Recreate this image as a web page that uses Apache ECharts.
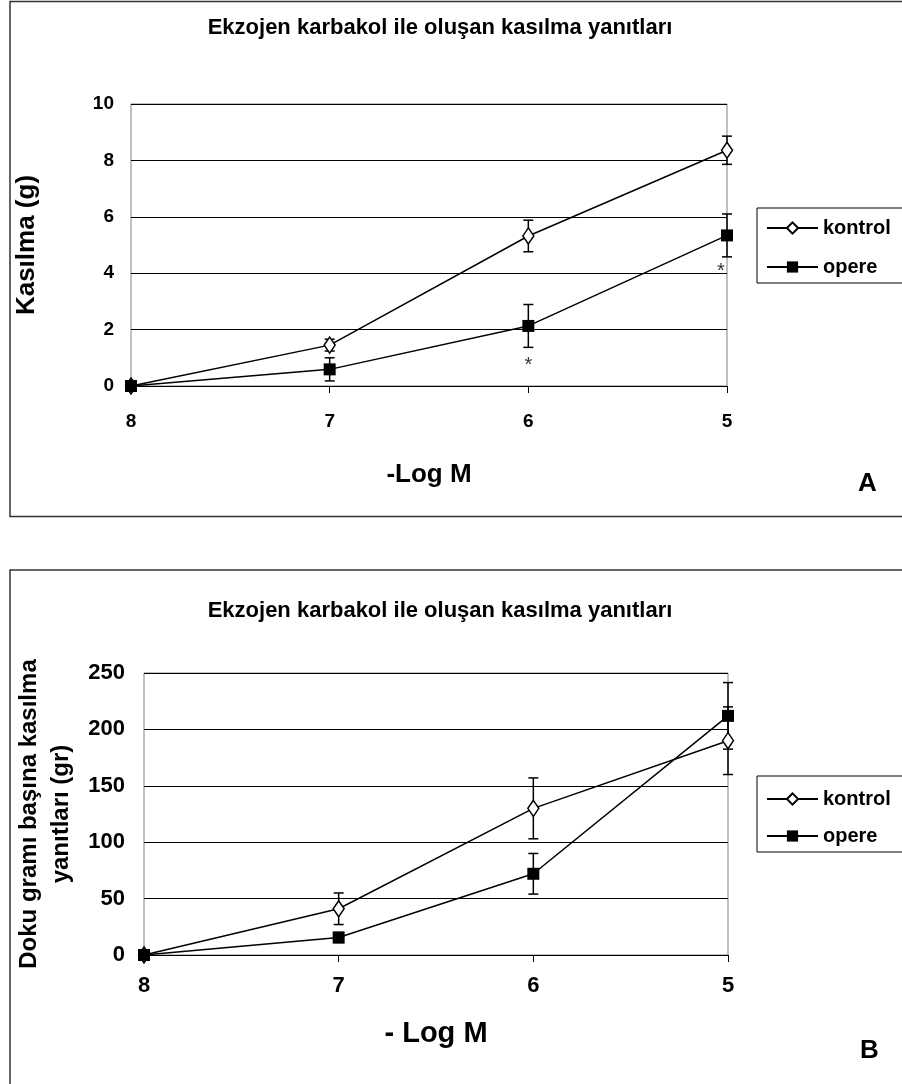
<!DOCTYPE html>
<html>
<head>
<meta charset="utf-8">
<script src="https://cdn.jsdelivr.net/npm/echarts@6/dist/echarts.min.js"></script>
<style>
  html, body { margin: 0; padding: 0; background: #fff; }
  #main { width: 902px; height: 1084px; }
</style>
</head>
<body>
<div id="main"></div>
<script>
var doses = ['8', '7', '6', '5'];

// panel A: Kasilma (g)
var kontrolA = [0, 1.45, 5.32, 8.36];
var kontrolAErr = [0, 0.21, 0.56, 0.5];
var opereA = [0, 0.59, 2.13, 5.34];
var opereAErr = [0, 0.41, 0.76, 0.76];
var starsA = [[2, 0.72], [3, 4.05]];

// panel B: doku grami basina kasilma (gr)
var kontrolB = [0, 41, 130, 190];
var kontrolBErr = [0, 14, 27, 30];
var opereB = [0, 15.5, 72, 212];
var opereBErr = [0, 4.5, 18, 29.5];

var ticksA = { min: 0, max: 10, interval: 2 };
var ticksB = { min: 0, max: 250, interval: 50 };

var FONT = 'Liberation Sans, Arial, sans-serif';

function errRows(vals, errs) {
  var out = [];
  for (var i = 0; i < vals.length; i++) {
    if (errs[i] > 0) out.push([i, vals[i] - errs[i], vals[i] + errs[i]]);
  }
  return out;
}

function errorBar(params, api) {
  var x = api.value(0);
  var lo = api.coord([x, api.value(1)]);
  var hi = api.coord([x, api.value(2)]);
  var w = 5;
  var st = { stroke: '#000', lineWidth: 1.5 };
  return {
    type: 'group',
    children: [
      { type: 'line', shape: { x1: hi[0], y1: hi[1], x2: lo[0], y2: lo[1] }, style: st },
      { type: 'line', shape: { x1: hi[0] - w, y1: hi[1], x2: hi[0] + w, y2: hi[1] }, style: st },
      { type: 'line', shape: { x1: lo[0] - w, y1: lo[1], x2: lo[0] + w, y2: lo[1] }, style: st }
    ]
  };
}

function lineSeries(name, data, idx, hollow) {
  return {
    name: name,
    type: 'line',
    xAxisIndex: idx,
    yAxisIndex: idx,
    data: data,
    z: 3,
    symbol: hollow ? 'diamond' : 'rect',
    symbolSize: hollow ? [11, 16] : 12,
    showAllSymbol: true,
    lineStyle: { color: '#000', width: 1.5 },
    itemStyle: hollow
      ? { color: '#fff', borderColor: '#000', borderWidth: 1.5 }
      : { color: '#000', borderColor: '#000', borderWidth: 0 },
    emphasis: { disabled: true },
    animation: false
  };
}

function errSeries(rows, idx) {
  return {
    type: 'custom',
    xAxisIndex: idx,
    yAxisIndex: idx,
    renderItem: errorBar,
    data: rows,
    z: 2,
    silent: true,
    animation: false
  };
}

function xAxisCfg(idx, name, fs, margin, gap) {
  return {
    type: 'category',
    gridIndex: idx,
    data: doses,
    boundaryGap: false,
    axisLine: { show: true, lineStyle: { color: '#000', width: 1 } },
    axisTick: { show: true, length: 7, lineStyle: { color: '#000' } },
    axisLabel: { color: '#000', fontFamily: FONT, fontWeight: 'bold', fontSize: fs, margin: margin },
    splitLine: { show: false },
    name: name,
    nameLocation: 'middle',
    nameGap: gap,
    nameTextStyle: { color: '#000', fontFamily: FONT, fontWeight: 'bold', fontSize: fs + 7 }
  };
}

function yAxisCfg(idx, t, name, fs, nfs, gap, margin) {
  return {
    type: 'value',
    gridIndex: idx,
    min: t.min,
    max: t.max,
    interval: t.interval,
    axisLine: { show: false },
    axisTick: { show: false },
    axisLabel: { color: '#000', fontFamily: FONT, fontWeight: 'bold', fontSize: fs, margin: margin },
    splitLine: { show: true, lineStyle: { color: '#000', width: 1 } },
    name: name,
    nameLocation: 'middle',
    nameGap: gap,
    nameTextStyle: { color: '#000', fontFamily: FONT, fontWeight: 'bold', fontSize: nfs, lineHeight: 32 }
  };
}

function legendCfg(top, gap, pad) {
  return {
    orient: 'vertical',
    left: 757,
    top: top,
    data: ['kontrol', 'opere'],
    itemWidth: 51,
    itemHeight: 14,
    itemGap: gap,
    padding: pad,
    borderColor: '#000',
    borderWidth: 1,
    backgroundColor: '#fff',
    selectedMode: false,
    textStyle: { color: '#000', fontFamily: FONT, fontWeight: 'bold', fontSize: 20 }
  };
}

var chart = echarts.init(document.getElementById('main'));

var titleStyle = { color: '#000', fontFamily: FONT, fontWeight: 'bold', fontSize: 22 };

var option = {
  backgroundColor: '#fff',
  animation: false,
  title: [
    { text: 'Ekzojen karbakol ile oluşan kasılma yanıtları', left: 440, top: 17, textAlign: 'center', padding: 0,
      textStyle: titleStyle },
    { text: 'Ekzojen karbakol ile oluşan kasılma yanıtları', left: 440, top: 600, textAlign: 'center', padding: 0,
      textStyle: titleStyle },
    { text: 'A', left: 858, top: 471, padding: 0,
      textStyle: { color: '#000', fontFamily: FONT, fontWeight: 'bold', fontSize: 26 } },
    { text: 'B', left: 860, top: 1038, padding: 0,
      textStyle: { color: '#000', fontFamily: FONT, fontWeight: 'bold', fontSize: 26 } }
  ],
  legend: [
    legendCfg(208, 19, [10, 40, 6, 9]),
    legendCfg(776, 17, [13, 40, 6, 9])
  ],
  grid: [
    { left: 131, right: 175, top: 104, height: 282, show: true, borderColor: '#808080', borderWidth: 1, containLabel: false },
    { left: 144, right: 174, top: 673, height: 282, show: true, borderColor: '#808080', borderWidth: 1, containLabel: false }
  ],
  xAxis: [
    xAxisCfg(0, '-Log M', 19, 26, 76),
    xAxisCfg(1, '- Log M', 22, 20, 64)
  ],
  yAxis: [
    yAxisCfg(0, ticksA, 'Kasılma (g)', 19, 26, 88, 17),
    yAxisCfg(1, ticksB, 'Doku gramı başına kasılma\nyanıtları (gr)', 22, 24, 64, 19)
  ],
  graphic: [
    { type: 'rect', shape: { x: 10, y: 1.5, width: 900, height: 515 }, style: { fill: 'none', stroke: '#333', lineWidth: 1.5 }, z: -1, silent: true },
    { type: 'rect', shape: { x: 10, y: 570, width: 900, height: 530 }, style: { fill: 'none', stroke: '#333', lineWidth: 1.5 }, z: -1, silent: true }
  ],
  series: [
    errSeries(errRows(kontrolA, kontrolAErr), 0),
    errSeries(errRows(opereA, opereAErr), 0),
    lineSeries('kontrol', kontrolA, 0, true),
    lineSeries('opere', opereA, 0, false),
    {
      type: 'scatter',
      xAxisIndex: 0,
      yAxisIndex: 0,
      data: starsA,
      symbolSize: 0,
      silent: true,
      label: {
        show: true, position: 'inside', formatter: '*', color: '#000',
        fontFamily: FONT, fontSize: 20
      },
      labelLayout: function (p) {
        return p.dataIndex === 1 ? { dx: -6 } : {};
      }
    },
    errSeries(errRows(kontrolB, kontrolBErr), 1),
    errSeries(errRows(opereB, opereBErr), 1),
    lineSeries('kontrol', kontrolB, 1, true),
    lineSeries('opere', opereB, 1, false)
  ]
};

chart.setOption(option);
</script>
</body>
</html>
